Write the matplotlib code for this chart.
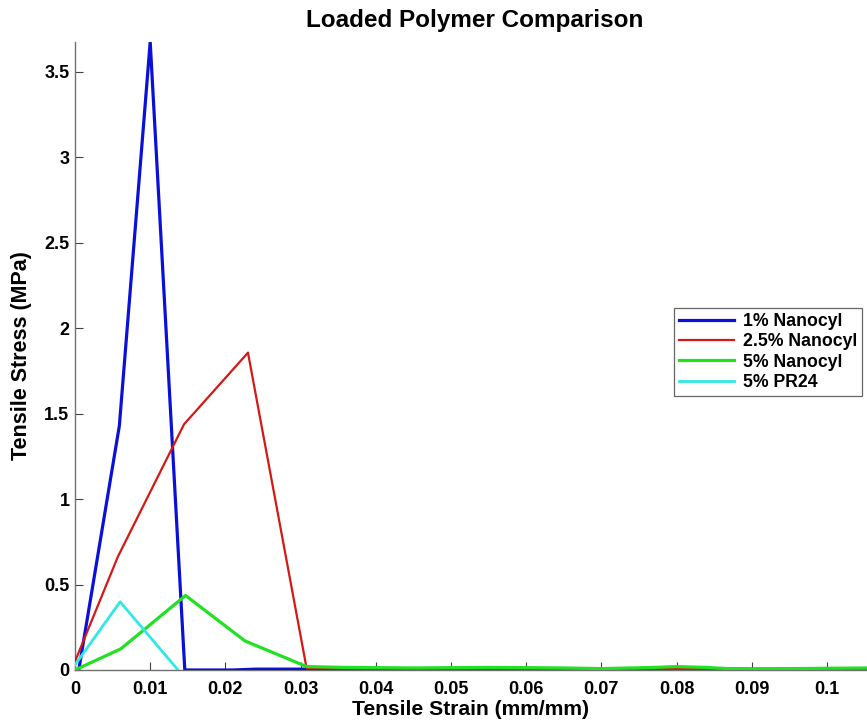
import matplotlib
matplotlib.use("Agg")
import matplotlib.pyplot as plt
from matplotlib.ticker import FuncFormatter

plt.rcParams['font.family'] = ['Liberation Sans', 'DejaVu Sans']
plt.rcParams['font.weight'] = 'bold'

# Data
strain_1n = [0.0, 0.0005, 0.0059, 0.0100, 0.0146, 0.021, 0.024, 0.035, 0.05, 0.065, 0.08, 0.095, 0.106]
stress_1n = [0.0, 0.0, 1.43, 3.675, 0.0, 0.0, 0.005, 0.005, 0.004, 0.005, 0.006, 0.004, 0.005]

strain_25n = [0.0, 0.0057, 0.0145, 0.0230, 0.0308, 0.035, 0.05, 0.07, 0.09, 0.106]
stress_25n = [0.05, 0.663, 1.438, 1.857, 0.01, 0.008, 0.007, 0.006, 0.006, 0.006]

strain_5n = [0.0, 0.0061, 0.0147, 0.0226, 0.0308, 0.036, 0.045, 0.055, 0.065, 0.070, 0.077, 0.080, 0.084,
             0.088, 0.095, 0.100, 0.106]
stress_5n = [0.0, 0.124, 0.436, 0.17, 0.02, 0.015, 0.012, 0.015, 0.012, 0.008, 0.015, 0.02, 0.015,
             0.005, 0.008, 0.01, 0.012]

strain_pr24 = [0.0, 0.0060, 0.0137]
stress_pr24 = [0.03, 0.399, 0.0]

labels = ['1% Nanocyl', '2.5% Nanocyl', '5% Nanocyl', '5% PR24']
xticks = [0, 0.01, 0.02, 0.03, 0.04, 0.05, 0.06, 0.07, 0.08, 0.09, 0.1]
yticks = [0, 0.5, 1, 1.5, 2, 2.5, 3, 3.5]

fig = plt.figure(figsize=(8.67, 7.24), dpi=100)
ax = fig.add_axes([75 / 867, 54 / 724, 792 / 867, 628 / 724])

ax.plot(strain_1n, stress_1n, color='#0a10d8', lw=2.3, label=labels[0], zorder=3)
ax.plot(strain_25n, stress_25n, color='#d41818', lw=1.6, label=labels[1], zorder=3)
ax.plot(strain_5n, stress_5n, color='#22e022', lw=2.3, label=labels[2], zorder=4)
ax.plot(strain_pr24, stress_pr24, color='#30e8e8', lw=2.0, label=labels[3], zorder=4)

ax.set_xlim(0, 0.10532)
ax.set_ylim(0, 3.675)
ax.set_xticks(xticks)
ax.set_yticks(yticks)
fmt = FuncFormatter(lambda v, p: ('%g' % round(v, 4)))
ax.xaxis.set_major_formatter(fmt)
ax.yaxis.set_major_formatter(fmt)

for s in ['top', 'right']:
    ax.spines[s].set_visible(False)
for s in ['left', 'bottom']:
    ax.spines[s].set_color('#707070')
    ax.spines[s].set_linewidth(1.0)

ax.tick_params(direction='in', length=6, width=0.8, color='#404040', labelsize=13,
               labelcolor='black')
ax.tick_params(axis='x', pad=8)
ax.tick_params(axis='y', pad=4)
for lab in ax.get_xticklabels() + ax.get_yticklabels():
    lab.set_fontweight('bold')

ax.set_xlabel('Tensile Strain (mm/mm)', fontsize=15.2, fontweight='bold', labelpad=1.5)
ax.set_ylabel('Tensile Stress (MPa)', fontsize=15.5, fontweight='bold', labelpad=9)
fig.text(475 / 867, 1 - 20 / 724, 'Loaded Polymer Comparison', ha='center', va='center',
         fontsize=17.5, fontweight='bold')

leg = fig.legend(loc='upper left', bbox_to_anchor=(674 / 867, 1 - 308 / 724),
                 prop={'weight': 'bold', 'size': 12.7}, frameon=True, fancybox=False,
                 edgecolor='#404040', handlelength=3.1, borderaxespad=0, borderpad=0.3,
                 labelspacing=0.18, handletextpad=0.5)
leg.get_frame().set_linewidth(0.9)

fig.savefig('out.png', dpi=100)
